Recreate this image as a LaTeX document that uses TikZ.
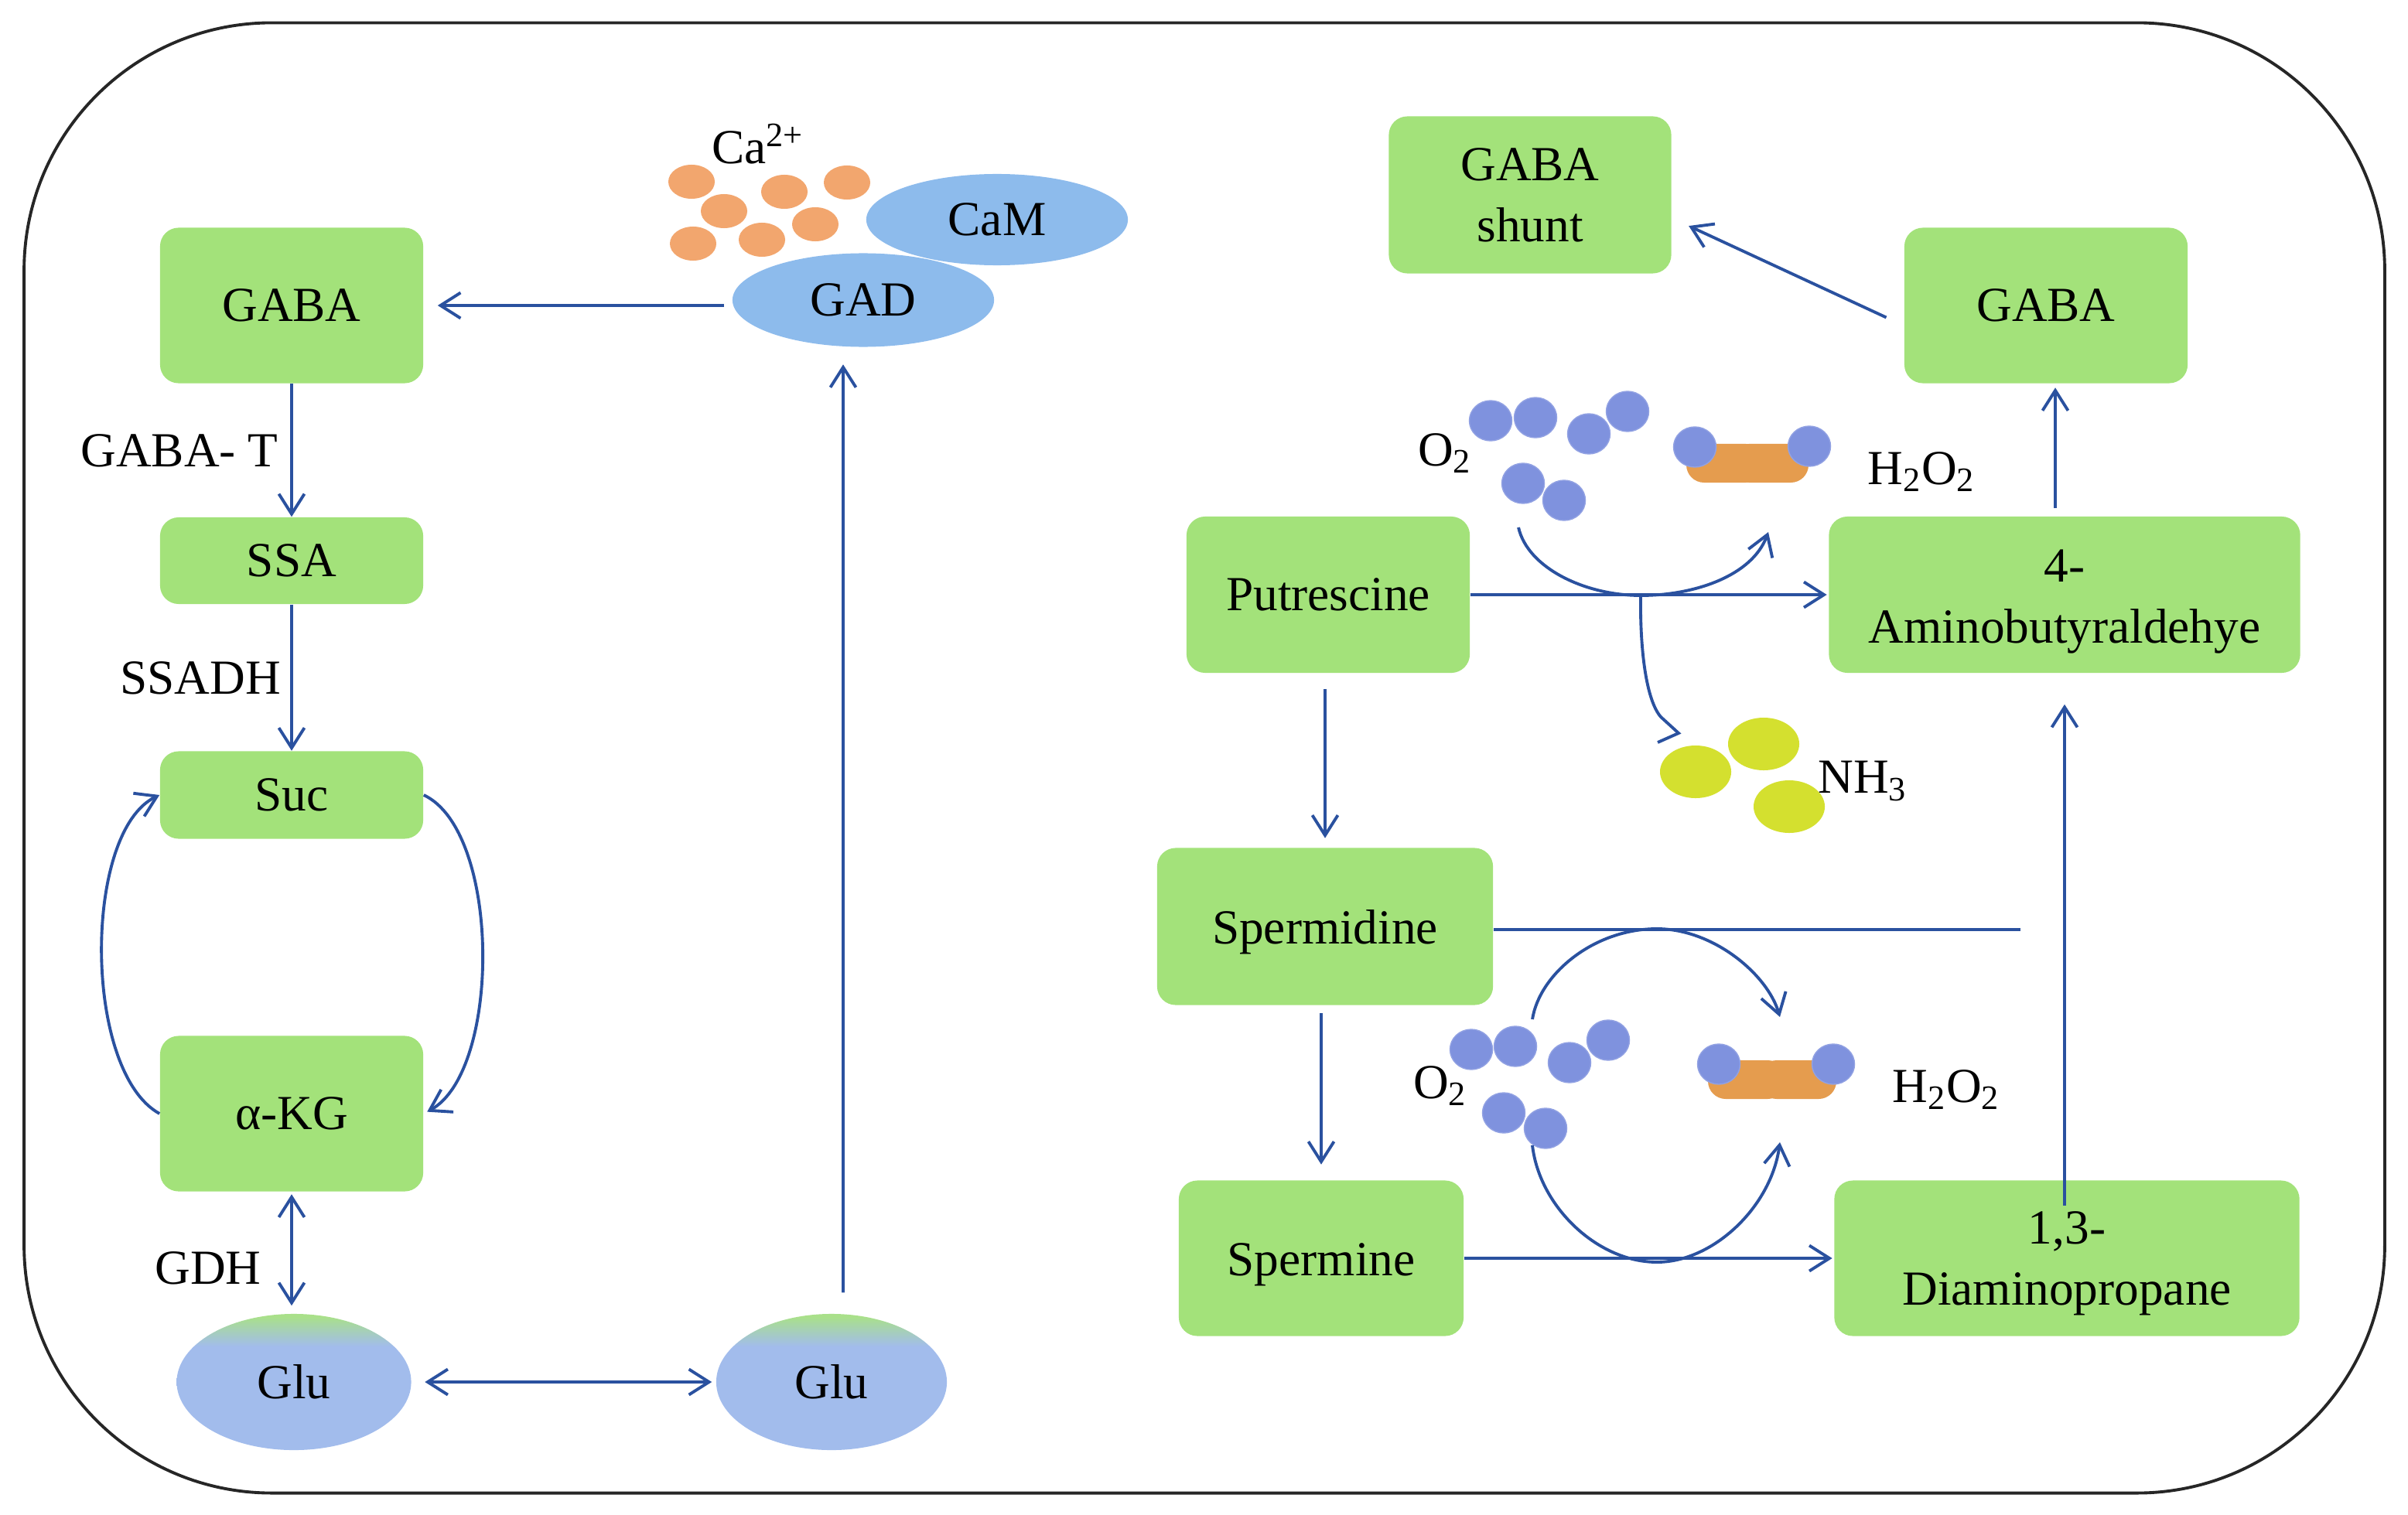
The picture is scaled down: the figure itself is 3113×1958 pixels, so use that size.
\documentclass[tikz,border=0pt]{standalone}
\usepackage{fontspec}
\setmainfont{Liberation Serif}
\usetikzlibrary{arrows.meta,shapes.geometric}
\definecolor{boxgreen}{HTML}{A3E27A}
\definecolor{lineblue}{HTML}{2A519F}
\definecolor{enzblue}{HTML}{8DBBEC}
\definecolor{glublue}{HTML}{A2BCEC}
\definecolor{gluhead}{HTML}{A9E08A}
\definecolor{caorange}{HTML}{F2A66E}
\definecolor{oxblue}{HTML}{7F92DE}
\definecolor{perorange}{HTML}{E59C4E}
\definecolor{nhyellow}{HTML}{D4E02F}
\pgfdeclareverticalshading{gluwash}{100bp}{color(0bp)=(glublue); color(63bp)=(glublue); color(74bp)=(gluhead); color(100bp)=(gluhead)}
\tikzset{
  txt/.style={font=\fontsize{18}{22.5}\selectfont, align=center, inner sep=0pt},
  greenbox/.style={txt, rectangle, fill=boxgreen, rounded corners=.24cm, inner sep=0pt},
  enzyme/.style={txt, ellipse, fill=enzblue, inner sep=0pt},
  glu/.style={txt, ellipse, shading=gluwash, inner sep=0pt, minimum width=3.03cm, minimum height=1.76cm},
  caion/.style={ellipse, fill=caorange, inner sep=0pt, minimum width=.6cm, minimum height=.44cm},
  oxy/.style={ellipse, draw=oxblue!85!white, fill=oxblue, line width=.4pt, inner sep=0pt, minimum width=.55cm, minimum height=.52cm},
  per/.style={rectangle, fill=perorange, rounded corners=.23cm, inner sep=0pt, minimum width=1cm, minimum height=.5cm},
  nhion/.style={ellipse, fill=nhyellow, inner sep=0pt, minimum width=.92cm, minimum height=.68cm},
  flow/.style={-{Straight Barb[length=2.6mm,width=3.3mm]}, draw=lineblue, line width=1.1pt},
  flowtwo/.style={{Straight Barb[length=2.6mm,width=3.3mm]}-{Straight Barb[length=2.6mm,width=3.3mm]}, draw=lineblue, line width=1.1pt},
  bar/.style={draw=lineblue, line width=1.1pt}
}
\begin{document}
\begin{tikzpicture}[x=.01cm, y=-.01cm]
\useasboundingbox (0,0) rectangle (3113,1958);
\node[draw=black!85, line width=1.1pt, rounded corners=3.2cm, minimum width=30.5cm, minimum height=19cm] (frame) at (1557,980) {};
\node[greenbox, minimum width=3.4cm, minimum height=2.01cm] (gabaL) at (377,395) {GABA};
\node[greenbox, minimum width=3.4cm, minimum height=1.12cm] (ssa) at (377,725) {SSA};
\node[greenbox, minimum width=3.4cm, minimum height=1.13cm] (suc) at (377,1028) {Suc};
\node[greenbox, minimum width=3.4cm, minimum height=2.01cm] (akg) at (377,1440) {α-KG};
\node[glu] (gluL) at (380,1787) {Glu};
\node[glu, minimum width=2.98cm] (gluR) at (1075,1787) {Glu};
\node[enzyme, minimum width=3.38cm, minimum height=1.18cm] (cam) at (1289,284) {CaM};
\node[enzyme, minimum width=3.38cm, minimum height=1.21cm] (gad) at (1116,388) {GAD};
\node[txt] (ca) at (980,186) {Ca\textsuperscript{2+}};
\node[caion] (ca1) at (894,235) {};
\node[caion] (ca2) at (936,273) {};
\node[caion] (ca3) at (896,315) {};
\node[caion] (ca4) at (985,310) {};
\node[caion] (ca5) at (1014,248) {};
\node[caion] (ca6) at (1054,290) {};
\node[caion] (ca7) at (1095,236) {};
\node[txt] (gabat) at (232,583) {GABA- T};
\node[txt] (ssadh) at (259,877) {SSADH};
\node[txt] (gdh) at (269,1640) {GDH};
\node[greenbox, minimum width=3.65cm, minimum height=2.03cm] (shunt) at (1978,252) {GABA\\shunt};
\node[greenbox, minimum width=3.66cm, minimum height=2.01cm] (gabaR) at (2645,395) {GABA};
\node[greenbox, minimum width=3.66cm, minimum height=2.02cm] (put) at (1717,769) {Putrescine};
\node[greenbox, minimum width=6.09cm, minimum height=2.02cm] (amino) at (2669,769) {\rule{0pt}{.6cm}4-\\Aminobutyraldehye};
\node[greenbox, minimum width=4.34cm, minimum height=2.03cm] (spd) at (1713,1198) {\rule{0pt}{.58cm}Spermidine};
\node[greenbox, minimum width=3.68cm, minimum height=2.01cm] (spm) at (1708,1627) {\rule{0pt}{.58cm}Spermine};
\node[greenbox, minimum width=6.01cm, minimum height=2.01cm] (dap) at (2672,1627) {\rule{0pt}{.55cm}1,3-\\Diaminopropane};
\node[oxy] (ua) at (1927,544) {};
\node[oxy] (ub) at (1985,540) {};
\node[oxy] (uc) at (2054,561) {};
\node[oxy] (ud) at (2104,532) {};
\node[oxy] (ue) at (1969,625) {};
\node[oxy] (uf) at (2022,647) {};
\node[per] (upa) at (2230,599) {};
\node[per] (upb) at (2288,599) {};
\node[oxy] (ug) at (2191,578) {};
\node[oxy] (uh) at (2339,577) {};
\node[txt] (oup) at (1868,586) {O\textsubscript{2}};
\node[txt] (hup) at (2484,610) {H\textsubscript{2}O\textsubscript{2}};
\node[nhion] (na) at (2192,998) {};
\node[nhion] (nb) at (2280,962) {};
\node[nhion] (nc) at (2313,1043) {};
\node[txt] (nh) at (2408,1010) {NH\textsubscript{3}};
\node[oxy] (la) at (1902,1357) {};
\node[oxy] (lb) at (1959,1353) {};
\node[oxy] (lc) at (2029,1374) {};
\node[oxy] (ld) at (2079,1345) {};
\node[oxy] (le) at (1944,1439) {};
\node[oxy] (lf) at (1998,1459) {};
\node[per] (lpa) at (2258,1396) {};
\node[per] (lpb) at (2324,1396) {};
\node[oxy] (lg) at (2222,1376) {};
\node[oxy] (lh) at (2370,1376) {};
\node[txt] (olo) at (1862,1404) {O\textsubscript{2}};
\node[txt] (hlo) at (2516,1409) {H\textsubscript{2}O\textsubscript{2}};
\coordinate (spdend) at (2612,1202);
\coordinate (uin) at (1963,682);
\coordinate (uout) at (2286,688);
\coordinate (ubot) at (2121,770);
\coordinate (nhtip) at (2170,948);
\coordinate (lin) at (1981,1318);
\coordinate (ltop) at (2142,1201);
\coordinate (lout) at (2301,1315);
\coordinate (din) at (1981,1481);
\coordinate (dbot) at (2142,1632);
\coordinate (dout) at (2301,1477);
\path (gad.west |- gabaL.east) edge [flow, shorten <=.1cm, shorten >=.18cm] (gabaL.east);
\path (gabaL) edge [flow] (ssa);
\path (ssa) edge [flow] (suc);
\draw[flow, shorten >=.05cm] (suc.east) .. controls (648,1075) and (648,1385) .. (akg.east);
\draw[flow] (akg.west) .. controls (107,1385) and (107,1075) .. (suc.west);
\path (akg.south) edge [flowtwo, shorten <=.03cm, shorten >=.1cm] (akg.south |- gluL.north);
\path (gluL) edge [flowtwo, shorten <=.17cm, shorten >=.05cm] (gluR);
\path ([xshift=.15cm]gluR.north) edge [flow, shorten <=.27cm, shorten >=.22cm] ([xshift=-.26cm]gad.south);
\path ([yshift=-.26cm]gabaR.west) edge [flow, shorten <=.25cm, shorten >=.24cm] ([yshift=-.3cm]shunt.east);
\path ([xshift=.12cm]gabaR.south |- amino.north) edge [flow, shorten <=.1cm, shorten >=.05cm] ([xshift=.12cm]gabaR.south);
\path (put) edge [flow, shorten >=.02cm] (amino);
\path (put.south -| spd) edge [flow, shorten <=.2cm, shorten >=.12cm] (spd.north);
\path (spm.north |- spd.south) edge [flow, shorten <=.1cm, shorten >=.2cm] (spm.north);
\path (spm) edge [flow, shorten >=.02cm] (dap);
\path (spd.east |- spdend) edge [bar] (spdend);
\path (amino.south |- dap.north) edge [flow, shorten <=-.33cm, shorten >=.4cm] (amino.south);
\draw[flow] (uin) .. controls (1975,735) and (2050,770) .. (ubot) .. controls (2190,770) and (2265,745) .. (uout);
\draw[bar, line join=miter] (ubot) .. controls (2120,840) and (2128,905) .. (2147,927) -- (nhtip) -- (2143,960);
\draw[flow] (lin) .. controls (1990,1260) and (2060,1201) .. (ltop) .. controls (2215,1201) and (2285,1260) .. (lout);
\draw[flow] (din) .. controls (1990,1560) and (2065,1632) .. (dbot) .. controls (2215,1632) and (2290,1560) .. (dout);
\end{tikzpicture}
\end{document}
